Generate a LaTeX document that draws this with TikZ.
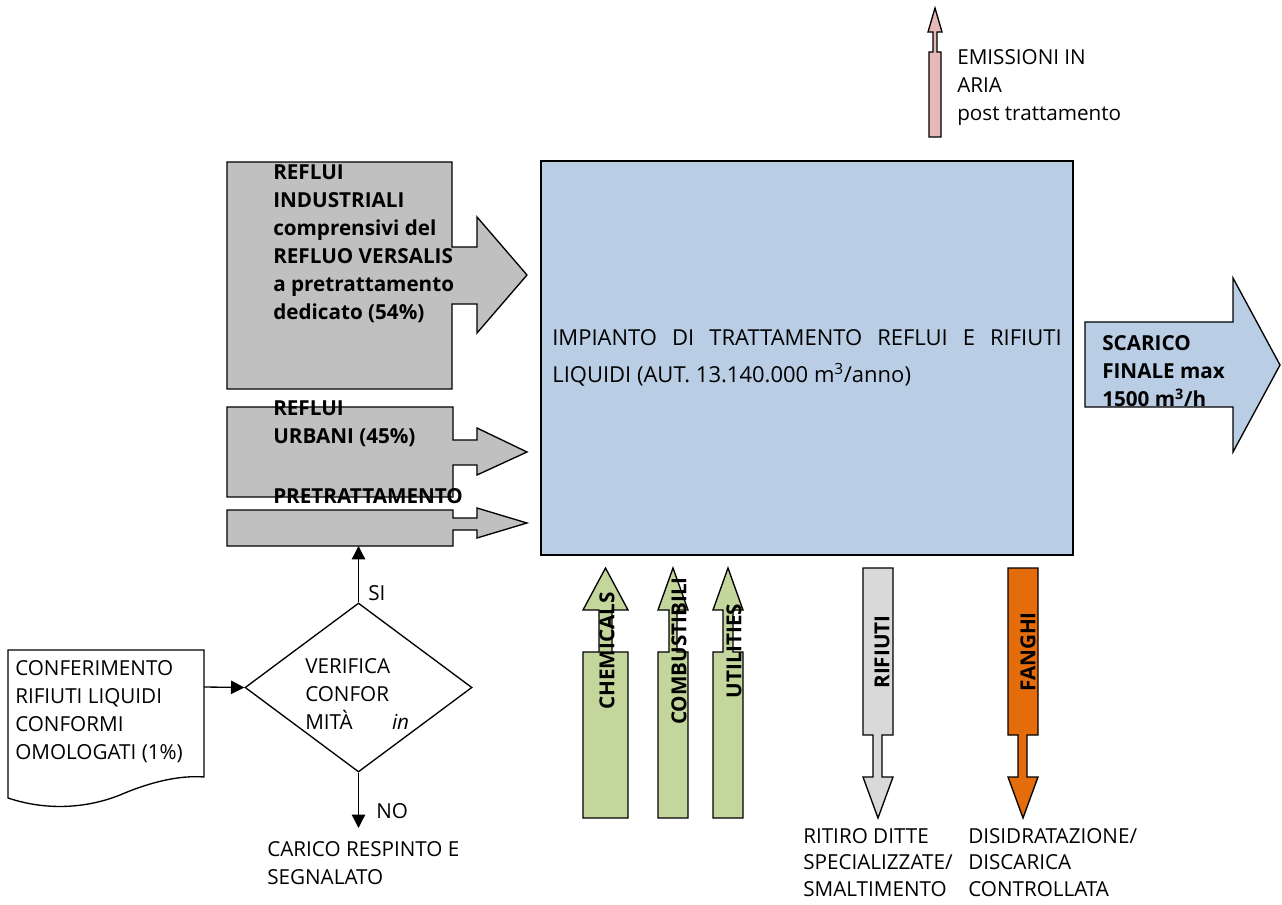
\documentclass[tikz,border=0pt]{standalone}
\usepackage{fontspec}
\setmainfont{Open Sans}
\usetikzlibrary{arrows.meta,shapes.geometric}
\definecolor{ingray}{RGB}{192,192,192}
\definecolor{plantblue}{RGB}{185,205,228}
\definecolor{supgreen}{RGB}{195,214,155}
\definecolor{wastegray}{RGB}{217,217,217}
\definecolor{sludgeorange}{RGB}{228,108,10}
\definecolor{airpink}{RGB}{230,185,184}
\newcommand{\lblfont}{\fontsize{15.5pt}{21pt}\selectfont}
\tikzset{
  flow/.style={line width=1pt,-{Triangle[length=10pt,width=10pt]}},
  blockarrow/.style={draw,line width=1pt,line join=miter},
  lbl/.style={inner sep=0pt,align=left,anchor=north west,font=\lblfont},
  blbl/.style={lbl,font=\lblfont\bfseries},
  vlbl/.style={inner sep=0pt,rotate=90,font=\lblfont\bfseries},
}

\begin{document}
\begin{tikzpicture}[x=0.75pt,y=-0.75pt]
  \useasboundingbox (0,0) rectangle (1282,905);

  % impianto
  \node [draw,fill=plantblue,line width=1pt,minimum width=399pt,minimum height=295.5pt,
         text width=382pt,align=justify,inner sep=0pt,
         font=\fontsize{16.5pt}{27.75pt}\selectfont] (impianto) at (807,358)
    {IMPIANTO DI TRATTAMENTO REFLUI E RIFIUTI\linebreak LIQUIDI (AUT. 13.140.000 m\textsuperscript{3}/anno)};

  % ingressi
  \draw [blockarrow,fill=ingray] (227,162) -- (452,162) -- (452,247) -- (477,247) -- (477,217) -- (527,275)
    -- (477,333) -- (477,304) -- (452,304) -- (452,389) -- (227,389) -- cycle;
  \draw [blockarrow,fill=ingray] (227,407) -- (453,407) -- (453,440) -- (477,440) -- (477,428) -- (527,452)
    -- (477,475) -- (477,465) -- (453,465) -- (453,497) -- (227,497) -- cycle;
  \draw [blockarrow,fill=ingray] (227,510) -- (453,510) -- (453,518) -- (477,518) -- (477,508) -- (527,523)
    -- (477,538) -- (477,530) -- (453,530) -- (453,546) -- (227,546) -- cycle;
  \node [blbl] (industriali) at (273,164) {REFLUI\\INDUSTRIALI\\comprensivi del\\REFLUO VERSALIS\\a pretrattamento\\dedicato (54\%)};
  \node [blbl] (urbani) at (273,400) {REFLUI\\URBANI (45\%)};
  \node [blbl] (pretxt) at (273,488) {PRETRATTAMENTO};

  % scarico
  \draw [blockarrow,fill=plantblue] (1085,322) -- (1233,322) -- (1233,278) -- (1280,365) -- (1233,452)
    -- (1233,407) -- (1085,407) -- cycle;
  \node [blbl] (scarico) at (1102,335) {SCARICO\\FINALE max\\1500 m\textsuperscript{3}/h};

  % emissioni
  \draw [blockarrow,fill=airpink] (929,137) -- (929,52) -- (933,52) -- (933,32) -- (928,32) -- (935,8)
    -- (942,32) -- (937,32) -- (937,52) -- (941,52) -- (941,137) -- cycle;
  \node [lbl] (emissioni) at (957,49) {EMISSIONI IN\\ARIA\\post trattamento};

  % apporti
  \draw [blockarrow,fill=supgreen] (583,818) -- (583,652) -- (599,652) -- (599,610) -- (583,610) -- (605.5,568)
    -- (628,610) -- (612,610) -- (612,652) -- (628,652) -- (628,818) -- cycle;
  \draw [blockarrow,fill=supgreen] (658,818) -- (658,652) -- (669,652) -- (669,610) -- (658,610) -- (673,568)
    -- (688,610) -- (677,610) -- (677,652) -- (688,652) -- (688,818) -- cycle;
  \draw [blockarrow,fill=supgreen] (713,818) -- (713,652) -- (723,652) -- (723,610) -- (713,610) -- (728,568)
    -- (743,610) -- (733,610) -- (733,652) -- (743,652) -- (743,818) -- cycle;
  \node [vlbl] (chemicals) at (607,651) {CHEMICALS};
  \node [vlbl] (combustibili) at (679,651) {COMBUSTIBILI};
  \node [vlbl] (utilities) at (734,651) {UTILITIES};

  % uscite
  \draw [blockarrow,fill=wastegray] (863,568) -- (893,568) -- (893,735) -- (882,735) -- (882,777) -- (893,777)
    -- (878,818) -- (863,777) -- (873,777) -- (873,735) -- (863,735) -- cycle;
  \draw [blockarrow,fill=sludgeorange] (1008,568) -- (1038,568) -- (1038,735) -- (1027,735) -- (1027,777) -- (1038,777)
    -- (1023,818) -- (1008,777) -- (1018,777) -- (1018,735) -- (1008,735) -- cycle;
  \node [vlbl] (rifiuti) at (882,652) {RIFIUTI};
  \node [vlbl] (fanghi) at (1028,652) {FANGHI};
  \node [lbl,font=\fontsize{15.5pt}{20pt}\selectfont] (ritiro) at (803,828) {RITIRO DITTE\\SPECIALIZZATE/\\SMALTIMENTO};
  \node [lbl,font=\fontsize{15.5pt}{20pt}\selectfont] (discarica) at (968,828) {DISIDRATAZIONE/\\DISCARICA\\CONTROLLATA};

  % conferimento e verifica
  \draw [line width=1pt] (8,650) -- (204,650) -- (204,777) .. controls (180,775) and (150,782) .. (120,795)
    .. controls (90,807) and (50,812) .. (8,798) -- cycle;
  \node [lbl] (conferimento) at (15,660) {CONFERIMENTO\\RIFIUTI LIQUIDI\\CONFORMI\\OMOLOGATI (1\%)};
  \coordinate (docout) at (204,687);
  \node [draw,diamond,line width=1pt,inner sep=0pt,minimum width=170.25pt,minimum height=126.75pt] (verif) at (358.5,687.5) {};
  \node [lbl] (veriftxt) at (305,658) {VERIFICA\\CONFOR\\MITÀ\hspace{1.9em}\textit{in}};
  \coordinate (pretin) at (358.5,546);
  \coordinate (noend) at (358.5,828);
  \draw [flow] (docout) -- (verif.west);
  \draw [flow] (verif.north) -- (pretin);
  \draw [flow] (verif.south) -- (noend);
  \node [lbl] (si) at (368,585) {SI};
  \node [lbl] (no) at (376,803) {NO};
  \node [lbl] (respinto) at (267,841) {CARICO RESPINTO E\\SEGNALATO};
\end{tikzpicture}
\end{document}
